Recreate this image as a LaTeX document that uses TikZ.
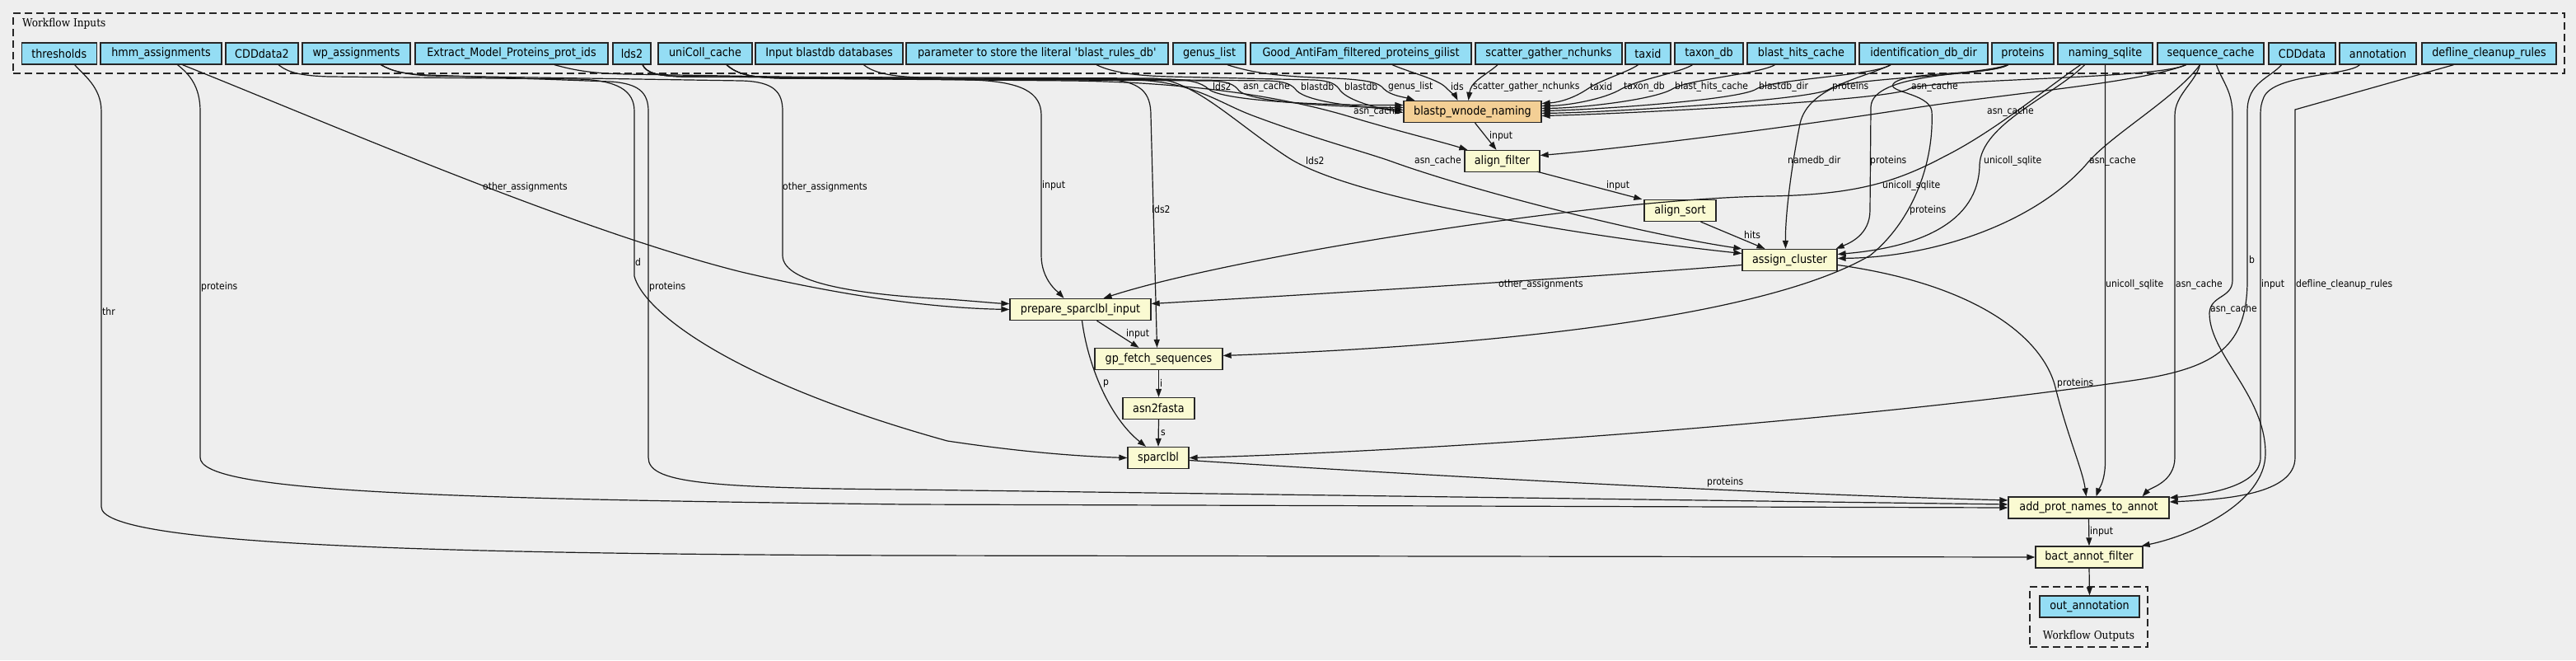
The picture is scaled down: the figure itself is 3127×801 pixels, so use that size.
\documentclass[tikz,border=0pt]{standalone}
\usepackage{fontspec}
\usetikzlibrary{arrows.meta}
\newfontfamily\nf{DejaVu Sans}[FakeStretch=0.9]
\newfontfamily\clf{DejaVu Serif}[FakeStretch=0.9]
\definecolor{bgc}{HTML}{EEEEEE}
\definecolor{inpc}{HTML}{94DDF4}
\definecolor{stpc}{HTML}{FAFAD2}
\definecolor{subc}{HTML}{F3CF95}
\tikzset{
  box/.style={draw=black!85, line width=1.3pt, minimum height=26pt, inner sep=0pt, font=\nf\fontsize{14.2}{16}\selectfont},
  inp/.style={box, fill=inpc},
  stp/.style={box, fill=stpc},
  sub/.style={box, fill=subc},
  lab/.style={font=\nf\fontsize{12}{14}\selectfont, inner sep=0pt, anchor=west},
  clu/.style={draw=black!85, line width=1.2pt, dash pattern=on 9pt off 5pt, inner sep=0pt},
  clab/.style={font=\clf\fontsize{13.5}{16}\selectfont, inner sep=0pt},
  cn/.style={line width=1.2pt, black!90, -{Triangle[length=10pt,width=7pt]}}
}
\begin{document}
\begin{tikzpicture}[x=1pt,y=-1pt]
\fill[bgc] (0,0) rectangle (3127,801);
\useasboundingbox (0,0) rectangle (3127,801);

% clusters
\node[clu, minimum width=3097pt, minimum height=73pt] (cin) at (1564.5,52.5) {};
\node[clab, anchor=west] (cinl) at (27,29) {Workflow Inputs};
\node[clu, minimum width=143pt, minimum height=73pt] (cout) at (2535.5,748.5) {};
\node[clab] (coutl) at (2535.5,772) {Workflow Outputs};

% inputs
\node[inp, minimum width=91pt] (thr) at (71.75,65) {thresholds};
\node[inp, minimum width=147pt] (hmm) at (195.5,65) {hmm\_assignments};
\node[inp, minimum width=88pt] (cdd2) at (318,65) {CDDdata2};
\node[inp, minimum width=131pt] (wp) at (432.5,65) {wp\_assignments};
\node[inp, minimum width=234pt] (emp) at (621,65) {Extract\_Model\_Proteins\_prot\_ids};
\node[inp, minimum width=46pt] (lds) at (767,65) {lds2};
\node[inp, minimum width=114pt] (uni) at (856,65) {uniColl\_cache};
\node[inp, minimum width=179pt] (ibd) at (1006.5,65) {Input blastdb databases};
\node[inp, minimum width=318pt] (par) at (1259,65) {parameter to store the literal \textquotesingle blast\_rules\_db\textquotesingle};
\node[inp, minimum width=88pt] (gen) at (1468,65) {genus\_list};
\node[inp, minimum width=268pt] (gaf) at (1652,65) {Good\_AntiFam\_filtered\_proteins\_gilist};
\node[inp, minimum width=178pt] (sgn) at (1880,65) {scatter\_gather\_nchunks};
\node[inp, minimum width=55pt] (tax) at (2000.5,65) {taxid};
\node[inp, minimum width=83pt] (txd) at (2074.5,65) {taxon\_db};
\node[inp, minimum width=131pt] (bhc) at (2186.5,65) {blast\_hits\_cache};
\node[inp, minimum width=156pt] (idd) at (2335,65) {identification\_db\_dir};
\node[inp, minimum width=75pt] (pro) at (2455.5,65) {proteins};
\node[inp, minimum width=115pt] (nsq) at (2555.5,65) {naming\_sqlite};
\node[inp, minimum width=129pt] (seq) at (2683.5,65) {sequence\_cache};
\node[inp, minimum width=81pt] (cdd) at (2794.5,65) {CDDdata};
\node[inp, minimum width=93pt] (ann) at (2886.5,65) {annotation};
\node[inp, minimum width=163pt] (dcr) at (3021.5,65) {defline\_cleanup\_rules};

% steps
\node[sub, minimum width=167pt] (bwn) at (1787.5,135.5) {blastp\_wnode\_naming};
\node[stp, minimum width=91pt] (alf) at (1823.5,195.5) {align\_filter};
\node[stp, minimum width=87pt] (als) at (2039.5,255.5) {align\_sort};
\node[stp, minimum width=115pt] (asc) at (2172.5,315.5) {assign\_cluster};
\node[stp, minimum width=171pt] (psi) at (1311.5,375.5) {prepare\_sparclbl\_input};
\node[stp, minimum width=155pt] (gfs) at (1406.5,435.5) {gp\_fetch\_sequences};
\node[stp, minimum width=87pt] (a2f) at (1406.5,495.5) {asn2fasta};
\node[stp, minimum width=74pt] (spl) at (1406,555.5) {sparclbl};
\node[stp, minimum width=195pt] (apn) at (2535.5,616) {add\_prot\_names\_to\_annot};
\node[stp, minimum width=130pt] (baf) at (2536,676) {bact\_annot\_filter};
\node[inp, minimum width=121pt] (out) at (2536.5,736) {out\_annotation};

% ---- edges into blastp_wnode_naming
\draw[cn] ([xshift=13pt]lds.south) .. controls (785,88) and (795,92) .. (830,93) -- (1420,96) .. controls (1445,97) and (1458,100) .. (1467,108) .. controls (1482,122) and (1600,128) .. ([yshift=8pt]bwn.west);
\draw[cn] ([xshift=26pt]uni.south) .. controls (895,90) and (910,94) .. (950,95) -- (1470,98) .. controls (1490,99) and (1498,102) .. (1504,110) .. controls (1518,124) and (1620,130) .. ([yshift=5pt]bwn.west);
\draw[cn] ([xshift=42pt]ibd.south) .. controls (1060,88) and (1080,93) .. (1120,94) -- (1540,98) .. controls (1560,99) and (1568,102) .. (1574,110) .. controls (1588,124) and (1650,130) .. ([yshift=2pt]bwn.west);
\draw[cn] ([xshift=72pt]par.south) .. controls (1350,88) and (1380,92) .. (1420,93) -- (1595,97) .. controls (1615,98) and (1622,102) .. (1627,110) .. controls (1637,122) and (1670,131) .. ([yshift=-1pt]bwn.west);
\draw[cn] ([xshift=22pt]gen.south) .. controls (1525,90) and (1560,93) .. (1620,95) .. controls (1660,97) and (1674,100) .. (1680,108) .. controls (1688,116) and (1705,118) .. ([xshift=14pt]bwn.north west);
\draw[cn] ([xshift=38pt]gaf.south) .. controls (1712,88) and (1745,96) .. (1755,106) .. controls (1762,113) and (1767,117) .. ([xshift=-18pt]bwn.north);
\draw[cn] ([xshift=-62pt]sgn.south) .. controls (1805,90) and (1788,98) .. (1785,108) .. controls (1783,114) and (1783,118) .. ([xshift=-5pt]bwn.north);
\draw[cn] ([xshift=-12pt]tax.south) .. controls (1975,88) and (1945,96) .. (1927,108) .. controls (1912,118) and (1895,124) .. ([yshift=10pt]bwn.east);
\draw[cn] ([xshift=-20pt]txd.south) .. controls (2040,88) and (1990,96) .. (1968,108) .. controls (1948,120) and (1905,128) .. ([yshift=7pt]bwn.east);
\draw[cn] ([xshift=-32pt]bhc.south) .. controls (2135,90) and (2050,96) .. (2030,108) .. controls (2008,121) and (1920,131) .. ([yshift=4pt]bwn.east);
\draw[cn] ([xshift=-40pt]idd.south) .. controls (2275,92) and (2150,96) .. (2132,108) .. controls (2112,121) and (1940,133) .. ([yshift=1pt]bwn.east);
\draw[cn] ([xshift=-18pt]pro.south) .. controls (2420,92) and (2240,94) .. (2221,108) .. controls (2202,121) and (1960,136) .. ([yshift=-2pt]bwn.east);
\draw[cn] ([xshift=-30pt]seq.south) .. controls (2620,96) and (2340,96) .. (2317,108) .. controls (2298,121) and (1980,138) .. ([yshift=-5pt]bwn.east);

% ---- align_filter
\draw[cn] ([xshift=3pt]bwn.south) -- ([xshift=-7pt]alf.north);
\draw[cn] ([xshift=26pt]uni.south) .. controls (895,90) and (910,94) .. (950,95) -- (1300,98) .. controls (1450,100) and (1560,118) .. (1640,142) .. controls (1700,160) and (1750,172) .. ([xshift=4pt]alf.north west);
\draw[cn] ([xshift=-30pt]seq.south) .. controls (2600,100) and (2450,112) .. (2330,130) .. controls (2150,158) and (1950,182) .. ([yshift=7pt]alf.east);

% ---- align_sort
\draw[cn] ([xshift=-4pt,yshift=1pt]alf.south east) -- ([xshift=-2pt]als.north west);

% ---- assign_cluster
\draw[cn] ([xshift=25pt]als.south) -- ([xshift=-30pt]asc.north);
\draw[cn] ([xshift=13pt]lds.south) .. controls (785,88) and (795,92) .. (830,93) -- (1400,95) .. controls (1450,97) and (1500,150) .. (1565,192) .. controls (1650,245) and (1950,290) .. ([yshift=8pt]asc.west);
\draw[cn] ([xshift=26pt]uni.south) .. controls (895,90) and (910,94) .. (950,95) -- (1380,97) .. controls (1450,100) and (1480,125) .. (1520,140) .. controls (1600,170) and (1660,185) .. (1695,198) .. controls (1800,235) and (2000,285) .. (asc.north west);
\draw[cn] ([xshift=-40pt]idd.south) .. controls (2262,95) and (2195,105) .. (2185,150) .. controls (2175,200) and (2167,260) .. ([xshift=-5pt]asc.north);
\draw[cn] ([xshift=-18pt]pro.south) .. controls (2400,92) and (2272,88) .. (2271,130) -- (2270,255) .. controls (2270,285) and (2245,295) .. ([xshift=-2pt]asc.north east);
\draw[cn] ([xshift=-25pt]nsq.south) .. controls (2495,115) and (2405,150) .. (2403,200) .. controls (2402,270) and (2330,300) .. ([yshift=7pt]asc.east);
\draw[cn] ([xshift=-13pt]seq.south) .. controls (2640,120) and (2560,165) .. (2532,200) .. controls (2470,270) and (2350,312) .. ([yshift=2pt]asc.east);

% ---- prepare_sparclbl_input
\draw[cn] ([xshift=26pt]hmm.south) .. controls (400,150) and (700,280) .. (900,330) .. controls (1050,365) and (1150,374) .. (psi.west);
\draw[cn] ([xshift=30pt]wp.south) .. controls (475,86) and (490,90) .. (520,92) -- (900,98) .. controls (940,99) and (950,112) .. (950,135) -- (950,310) .. controls (950,345) and (1050,358) .. (1150,363) .. controls (1190,366) and (1210,368) .. ([yshift=7pt]psi.west);
\draw[cn] ([xshift=52pt]emp.south) .. controls (700,86) and (720,89) .. (760,90) -- (1180,97) .. controls (1240,99) and (1264,112) .. (1264,140) -- (1264,310) .. controls (1264,340) and (1285,355) .. ([xshift=-20pt]psi.north);
\draw[cn] ([xshift=-30pt]nsq.south) .. controls (2480,110) and (2420,160) .. (2360,190) .. controls (2300,222) and (2250,236) .. (2150,238) .. controls (1950,240) and (1500,310) .. ([xshift=28pt]psi.north);
\draw[cn] ([yshift=-6pt]asc.west) .. controls (1950,335) and (1600,357) .. ([yshift=7pt]psi.east);

% ---- gp_fetch_sequences
\draw[cn] ([xshift=20pt]psi.south) -- ([xshift=-24pt]gfs.north);
\draw[cn] ([xshift=13pt]lds.south) .. controls (785,88) and (795,92) .. (830,93) -- (1340,96) .. controls (1385,98) and (1397,112) .. (1397,140) -- ([xshift=-2pt]gfs.north);
\draw[cn] ([xshift=-18pt]pro.south) .. controls (2410,92) and (2320,86) .. (2300,100) .. controls (2285,112) and (2342,112) .. (2345,135) .. controls (2348,200) and (2320,270) .. (2270,310) .. controls (2150,380) and (1850,418) .. ([yshift=4pt]gfs.east);

% ---- asn2fasta
\draw[cn] (gfs.south) -- (a2f.north);

% ---- sparclbl
\draw[cn] ([xshift=2pt]psi.south) .. controls (1320,440) and (1345,505) .. ([xshift=-15pt]spl.north);
\draw[cn] (a2f.south) -- (spl.north);
\draw[cn] ([xshift=20pt]cdd2.south) .. controls (350,88) and (365,92) .. (400,93) -- (700,96) .. controls (750,97) and (770,110) .. (770,135) -- (770,335) .. controls (780,375) and (880,460) .. (1150,535) .. controls (1250,550) and (1320,554) .. (spl.west);
\draw[cn] ([xshift=-25pt]cdd.south) .. controls (2755,95) and (2728,100) .. (2728,135) -- (2728,340) .. controls (2728,420) and (2690,445) .. (2600,460) .. controls (2300,505) and (1800,545) .. (spl.east);

% ---- add_prot_names_to_annot
\draw[cn] ([yshift=-3pt]spl.east) .. controls (1700,575) and (2100,598) .. ([yshift=9pt]apn.west);
\draw[cn] ([xshift=20pt]hmm.south) .. controls (230,90) and (243,105) .. (243,135) -- (243,555) .. controls (243,595) and (500,605) .. (1100,612) -- (apn.west);
\draw[cn] ([xshift=30pt]wp.south) .. controls (475,86) and (490,90) .. (520,91) -- (740,99) .. controls (775,101) and (787,112) .. (787,135) -- (787,555) .. controls (787,585) and (850,592) .. (1100,594) -- ([yshift=4pt]apn.west);
\draw[cn] ([yshift=-6pt]asc.east) .. controls (2400,345) and (2480,410) .. (2495,470) .. controls (2510,530) and (2528,570) .. ([xshift=-3pt]apn.north);
\draw[cn] (nsq.south) -- (2555.5,560) .. controls (2555.5,585) and (2547,595) .. ([xshift=9pt]apn.north);
\draw[cn] ([xshift=-13pt]seq.south) .. controls (2665,100) and (2640,115) .. (2640,140) -- (2640,555) .. controls (2640,585) and (2610,592) .. ([xshift=65pt]apn.north);
\draw[cn] ([xshift=-22pt]ann.south) .. controls (2850,92) and (2760,90) .. (2748,118) .. controls (2745,125) and (2744,130) .. (2744,140) -- (2744,555) .. controls (2744,590) and (2680,600) .. ([yshift=12pt]apn.east);
\draw[cn] ([xshift=-43pt]dcr.south) -- (2786,133) -- (2786,555) .. controls (2786,600) and (2700,606) .. ([yshift=7pt]apn.east);

% ---- bact_annot_filter
\draw[cn] (apn.south) -- (baf.north);
\draw[cn] ([xshift=19pt]thr.south) .. controls (100,90) and (123,105) .. (123,135) -- (123,615) .. controls (123,660) and (500,672) .. (1100,674) -- (baf.west);
\draw[cn] ([xshift=7pt]seq.south) .. controls (2698,100) and (2710,110) .. (2710,140) -- (2710,340) .. controls (2710,362) and (2683,358) .. (2682,380) .. controls (2682,430) and (2750,480) .. (2750,550) .. controls (2750,610) and (2660,650) .. ([xshift=-2pt]baf.north east);

% ---- output
\draw[cn] (baf.south) -- (out.north);

% ---- edge labels
\node[lab] (l1) at (1472,105) {lds2};
\node[lab] (l2) at (1509,105) {asn\_cache};
\node[lab] (l3) at (1579,105) {blastdb};
\node[lab] (l4) at (1632,105) {blastdb};
\node[lab] (l5) at (1685,105) {genus\_list};
\node[lab] (l6) at (1761,105) {ids};
\node[lab] (l7) at (1788,105) {scatter\_gather\_nchunks};
\node[lab] (l8) at (1930,105) {taxid};
\node[lab] (l9) at (1971,105) {taxon\_db};
\node[lab] (l10) at (2033,105) {blast\_hits\_cache};
\node[lab] (l11) at (2135,105) {blastdb\_dir};
\node[lab] (l12) at (2224,105) {proteins};
\node[lab] (l13) at (2320,105) {asn\_cache};
\node[lab] (l14) at (1808,165) {input};
\node[lab] (l15) at (1643,135) {asn\_cache};
\node[lab] (l16) at (2412,135) {asn\_cache};
\node[lab] (l17) at (1950,225) {input};
\node[lab] (l18) at (2117,285) {hits};
\node[lab] (l19) at (1585,195) {lds2};
\node[lab] (l20) at (1717,195) {asn\_cache};
\node[lab] (l21) at (2170,195) {namedb\_dir};
\node[lab] (l22) at (2270,195) {proteins};
\node[lab] (l23) at (2408,195) {unicoll\_sqlite};
\node[lab] (l24) at (2536,195) {asn\_cache};
\node[lab] (l25) at (586,227) {other\_assignments};
\node[lab] (l26) at (950,227) {other\_assignments};
\node[lab] (l27) at (1265,225) {input};
\node[lab] (l28) at (2285,225) {unicoll\_sqlite};
\node[lab] (l29) at (1819,345) {other\_assignments};
\node[lab] (l30) at (1367,405) {input};
\node[lab] (l31) at (1398,254) {lds2};
\node[lab] (l32) at (2318,255) {proteins};
\node[lab] (l33) at (1408,465) {i};
\node[lab] (l34) at (1339,465) {p};
\node[lab] (l35) at (1409,525) {s};
\node[lab] (l36) at (771,318) {d};
\node[lab] (l37) at (2730,315) {b};
\node[lab] (l38) at (2072,585) {proteins};
\node[lab] (l39) at (244,348) {proteins};
\node[lab] (l40) at (788,348) {proteins};
\node[lab] (l41) at (2497,465) {proteins};
\node[lab] (l42) at (2556,345) {unicoll\_sqlite};
\node[lab] (l43) at (2641,345) {asn\_cache};
\node[lab] (l44) at (2745,345) {input};
\node[lab] (l45) at (2787,345) {defline\_cleanup\_rules};
\node[lab] (l46) at (2537,645) {input};
\node[lab] (l47) at (124,378) {thr};
\node[lab] (l48) at (2683,375) {asn\_cache};
\end{tikzpicture}
\end{document}
